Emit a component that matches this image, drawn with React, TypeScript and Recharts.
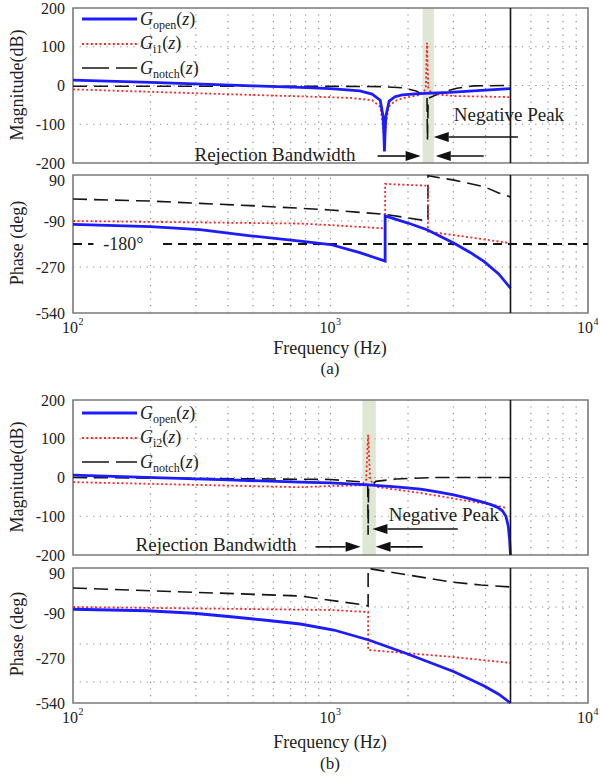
import React from 'react';
import {
  ComposedChart,
  Line,
  XAxis,
  YAxis,
  ReferenceLine,
  ReferenceArea,
  ReferenceDot,
} from 'recharts';

const FONT = '"Liberation Serif", "Times New Roman", serif';
const BLUE = '#1c1cff';
const RED = '#ff2424';
const BLACK = '#151515';
const BAND = '#dfe7d4';

// axes
const X_DOMAIN = [100, 10000];
const X_TICKS = [100, 1000, 10000];
const GRID_F = [200, 300, 400, 500, 600, 700, 800, 900, 1000, 2000, 3000, 4000, 5000, 6000, 7000, 8000, 9000];
const NYQUIST = 5000;
const MAG_TICKS = [-200, -100, 0, 100, 200];
const MAG_GRID = [100, 0, -100];
const PHASE_TICKS = [90, -90, -270, -450];
const PHASE_TICK_LABELS = ['90', '-90', '-270', '-540'];
const PHASE_A_GRID = [-90, -270];
const PHASE_B_GRID = [-66, -214, -366];

// shaded rejection band [f1, f2]
const BAND_A = [2280, 2520];
const BAND_B = [1330, 1500];

// (a) magnitude, [Hz, dB]
const A_MAG_OPEN = [
  [100, 14], [200, 8], [500, -1], [763, -5], [1000, -8], [1300, -14], [1450, -22], [1560, -38],
  [1600, -80], [1613, -130], [1620, -170], [1627, -130], [1640, -80], [1690, -40], [1780, -29],
  [1900, -24], [2200, -21], [2900, -18], [4000, -12], [5000, -8],
];
const A_MAG_I1 = [
  [100, -10], [300, -20], [763, -28], [1200, -32], [1450, -38], [1560, -55], [1605, -110],
  [1620, -165], [1635, -110], [1680, -55], [1780, -40], [1900, -33], [2200, -25], [2300, -18],
  [2345, -5], [2370, 110], [2395, -5], [2450, -18], [2600, -23], [3000, -27], [5000, -30],
];
const A_MAG_NOTCH = [
  [100, -2], [1000, -2], [1600, -3], [1900, -6], [2150, -14], [2300, -24], [2370, -30],
  [2380, -140], [2395, -33], [2500, -28], [2700, -18], [3100, -7], [3600, -1], [5000, 0],
];

// (a) phase, [Hz, deg]
const A_PH_OPEN = [
  [100, -103], [200, -112], [311, -124], [489, -148], [763, -169], [1000, -182], [1300, -214],
  [1630, -247], [1630, -70], [2000, -98], [2384, -125], [3020, -177], [3500, -214], [3953, -249],
  [4500, -297], [5000, -353],
];
const A_PH_I1 = [
  [100, -90], [763, -100], [1000, -106], [1630, -119], [1630, 55], [2390, 48], [2390, -132],
  [3020, -145], [5000, -177],
];
const A_PH_NOTCH = [
  [100, -4], [200, -12], [311, -21], [489, -30], [763, -40], [1000, -47], [1630, -64], [2390, -90],
  [2390, 87], [3020, 70], [3953, 44], [4500, 20], [5000, 4],
];

// (b) magnitude
const B_MAG_OPEN = [
  [100, 6], [400, -6], [763, -12], [1000, -14], [1400, -19], [1800, -24], [2240, -30], [2600, -37],
  [3010, -45], [3400, -53], [3838, -62], [4200, -70], [4460, -77], [4650, -86], [4800, -100],
  [4900, -125], [4960, -160], [5000, -200],
];
const B_MAG_I2 = [
  [100, -12], [763, -25], [1000, -22], [1320, -20], [1375, -6], [1400, 110], [1425, -6], [1500, -24],
  [2240, -40], [3250, -58], [4460, -73], [4800, -78],
];
const B_MAG_NOTCH = [
  [100, 0], [1000, -5], [1350, -12], [1395, -20], [1400, -148], [1405, -28], [1500, -10], [1800, -4],
  [2500, 0], [5000, 0],
];

// (b) phase
const B_PH_OPEN = [
  [100, -75], [194, -81], [294, -91], [421, -106], [550, -118], [763, -134], [1030, -158],
  [1408, -198], [1959, -251], [3020, -325], [3953, -382], [4500, -415], [5000, -450],
];
const B_PH_I2 = [
  [100, -66], [1000, -78], [1400, -86], [1400, -238], [3010, -266], [5000, -290],
];
const B_PH_NOTCH = [
  [100, 10], [763, -22], [1350, -58], [1400, -62], [1400, 88], [1700, 74], [2930, 34], [3838, 22], [5000, 14],
];

const pts = (arr: number[][]) => arr.map(([f, v]) => ({ f, v }));

const Arrow = (p: any) => {
  const { x1, y1, x2, y2 } = p;
  const dir = Math.sign(x2 - x1) || 1;
  const hl = 15;
  const hw = 5;
  return (
    <g>
      <line x1={x1} y1={y1} x2={x2 - dir * hl} y2={y2} stroke="#111" strokeWidth={1.6} />
      <polygon points={`${x2},${y2} ${x2 - dir * hl},${y2 - hw} ${x2 - dir * hl},${y2 + hw}`} fill="#111" />
    </g>
  );
};

const note = (text: string, anchor: string) => (p: any) => (
  <text x={p.cx} y={p.cy} textAnchor={anchor} fontFamily={FONT} fontSize={19} fill="#222">
    {text}
  </text>
);

const PowTick = (p: any) => {
  const exp = Math.round(Math.log10(p.payload.value));
  return (
    <g fontFamily={FONT} fill="#222">
      <text x={p.x + 5} y={p.y + 12} textAnchor="end" fontSize={16}>10</text>
      <text x={p.x + 5.5} y={p.y + 4} textAnchor="start" fontSize={10}>{exp}</text>
    </g>
  );
};

// y tick; the top phase label sits a little below the frame edge, as in the figure
const YTick = (p: any) => {
  const v = p.payload.value;
  const label = p.phase ? PHASE_TICK_LABELS[PHASE_TICKS.indexOf(v)] : String(v);
  const shift = p.phase && v === 90 ? 5 : 0;
  return (
    <text x={p.x} y={p.y + shift} dy="0.35em" textAnchor="end" fontFamily={FONT} fontSize={16} fill="#222">
      {label}
    </text>
  );
};

interface PanelProps {
  top: number;
  height: number;
  marginTop: number;
  marginBottom: number;
  kind: 'mag' | 'phase';
  open: number[][];
  inj: number[][];
  notch: number[][];
  band?: number[];
  hGrid: number[];
  children?: React.ReactNode;
}

const Panel = ({ top, height, marginTop, marginBottom, kind, open, inj, notch, band, hGrid, children }: PanelProps) => {
  const isMag = kind === 'mag';
  const yDomain = isMag ? [-200, 200] : [-450, 90];
  return (
    <div style={{ position: 'absolute', left: 0, top }}>
      <ComposedChart width={600} height={height} margin={{ top: marginTop, right: 12, bottom: marginBottom, left: 0 }}>
        <XAxis
          dataKey="f"
          type="number"
          scale="log"
          domain={X_DOMAIN}
          ticks={X_TICKS}
          allowDataOverflow
          hide={isMag}
          height={30}
          axisLine={false}
          tickLine={false}
          tick={<PowTick />}
          interval={0}
        />
        <YAxis
          type="number"
          domain={yDomain}
          ticks={isMag ? MAG_TICKS : PHASE_TICKS}
          width={73}
          axisLine={false}
          tickLine={false}
          tick={<YTick phase={!isMag} />}
          interval={0}
        />
        {band && <ReferenceArea x1={band[0]} x2={band[1]} y1={yDomain[0]} y2={yDomain[1]} fill={BAND} fillOpacity={1} stroke="none" />}
        {GRID_F.map((f) => (
          <ReferenceLine key={'v' + f} x={f} stroke="#8a8a8a" strokeWidth={1.2} strokeDasharray="1.2 5.5" />
        ))}
        {hGrid.map((v) => (
          <ReferenceLine key={'h' + v} y={v} stroke="#8a8a8a" strokeWidth={1.2} strokeDasharray="1.2 5.5" />
        ))}
        {children}
        <Line data={pts(notch)} dataKey="v" stroke={BLACK} strokeWidth={1.6} strokeDasharray="14 7" dot={false} type="linear" isAnimationActive={false} />
        <Line data={pts(inj)} dataKey="v" stroke={RED} strokeWidth={1.8} strokeDasharray="2 2.4" dot={false} type="linear" isAnimationActive={false} />
        <Line data={pts(open)} dataKey="v" stroke={BLUE} strokeWidth={2.8} dot={false} type="linear" isAnimationActive={false} />
        <ReferenceLine x={NYQUIST} stroke={BLACK} strokeWidth={1.6} />
        <ReferenceArea x1={X_DOMAIN[0]} x2={X_DOMAIN[1]} y1={yDomain[0]} y2={yDomain[1]} fill="none" stroke="#7a7a7a" strokeWidth={1.6} />
      </ComposedChart>
    </div>
  );
};

const LEGEND_A = [
  { sub: 'open', color: BLUE, width: 2.8, dash: undefined },
  { sub: 'i1', color: RED, width: 1.8, dash: '2 2.4' },
  { sub: 'notch', color: BLACK, width: 1.6, dash: '27 7' },
];
const LEGEND_B = [
  { sub: 'open', color: BLUE, width: 2.8, dash: undefined },
  { sub: 'i2', color: RED, width: 1.8, dash: '2 2.4' },
  { sub: 'notch', color: BLACK, width: 1.6, dash: '27 7' },
];

const LegendBox = ({ top, items }: { top: number; items: typeof LEGEND_A }) => (
  <div style={{ position: 'absolute', left: 80, top, fontFamily: FONT, color: '#222' }}>
    {items.map((it, i) => (
      <div key={it.sub} style={{ position: 'absolute', top: i * 24.5, left: 0, height: 24, display: 'flex', alignItems: 'center', whiteSpace: 'nowrap' }}>
        <svg width={58} height={10}>
          <line x1={2} y1={5} x2={57} y2={5} stroke={it.color} strokeWidth={it.width} strokeDasharray={it.dash} />
        </svg>
        <span style={{ fontSize: 18, marginLeft: 2 }}>
          <i>G</i>
          <span style={{ fontSize: 12, position: 'relative', top: 4 }}>{it.sub}</span>(<i>z</i>)
        </span>
      </div>
    ))}
  </div>
);

const textAbs = (left: number, top: number, fontSize: number): React.CSSProperties => ({
  position: 'absolute',
  left,
  top,
  transform: 'translate(-50%, -50%)',
  fontFamily: FONT,
  fontSize,
  color: '#222',
  whiteSpace: 'nowrap',
});

const yTitle = (top: number): React.CSSProperties => ({
  ...textAbs(17, top, 18),
  transform: 'translate(-50%, -50%) rotate(-90deg)',
});

const DegLabel = (p: any) => (
  <g>
    <rect x={p.cx - 30} y={p.cy - 10} width={64} height={20} fill="#fff" />
    <text x={p.cx} y={p.cy + 6} textAnchor="middle" fontFamily={FONT} fontSize={18} fill="#222">
      -180°
    </text>
  </g>
);

export default function App() {
  return (
    <div style={{ position: 'absolute', left: 0, top: 0, width: 600, height: 780, background: '#fff' }}>
      {/* (a) magnitude */}
      <Panel top={0} height={180} marginTop={8} marginBottom={17} kind="mag" open={A_MAG_OPEN} inj={A_MAG_I1} notch={A_MAG_NOTCH} band={BAND_A} hGrid={MAG_GRID}>
        <ReferenceLine segment={[{ x: 5345, y: -133 }, { x: 2518, y: -133 }]} shape={<Arrow />} ifOverflow="visible" />
        <ReferenceLine segment={[{ x: 1524, y: -182 }, { x: 2239, y: -182 }]} shape={<Arrow />} ifOverflow="visible" />
        <ReferenceLine segment={[{ x: 3935, y: -182 }, { x: 2563, y: -182 }]} shape={<Arrow />} ifOverflow="visible" />
        <ReferenceDot x={3013} y={-92} ifOverflow="visible" shape={note('Negative Peak', 'start')} />
        <ReferenceDot x={1250} y={-195} ifOverflow="visible" shape={note('Rejection Bandwidth', 'end')} />
      </Panel>
      {/* (a) phase */}
      <Panel top={165} height={178} marginTop={10} marginBottom={0} kind="phase" open={A_PH_OPEN} inj={A_PH_I1} notch={A_PH_NOTCH} hGrid={PHASE_A_GRID}>
        <ReferenceLine y={-180} stroke={BLACK} strokeWidth={2} strokeDasharray="9 6" />
        <ReferenceDot x={157} y={-180} ifOverflow="visible" shape={<DegLabel />} />
      </Panel>
      {/* (b) magnitude */}
      <Panel top={392} height={180} marginTop={8} marginBottom={17} kind="mag" open={B_MAG_OPEN} inj={B_MAG_I2} notch={B_MAG_NOTCH} band={BAND_B} hGrid={MAG_GRID}>
        <ReferenceLine segment={[{ x: 3120, y: -133 }, { x: 1455, y: -133 }]} shape={<Arrow />} ifOverflow="visible" />
        <ReferenceLine segment={[{ x: 875, y: -179 }, { x: 1309, y: -179 }]} shape={<Arrow />} ifOverflow="visible" />
        <ReferenceLine segment={[{ x: 2281, y: -179 }, { x: 1496, y: -179 }]} shape={<Arrow />} ifOverflow="visible" />
        <ReferenceDot x={1683} y={-112} ifOverflow="visible" shape={note('Negative Peak', 'start')} />
        <ReferenceDot x={738} y={-190} ifOverflow="visible" shape={note('Rejection Bandwidth', 'end')} />
      </Panel>
      {/* (b) phase */}
      <Panel top={558} height={175} marginTop={10} marginBottom={0} kind="phase" open={B_PH_OPEN} inj={B_PH_I2} notch={B_PH_NOTCH} hGrid={PHASE_B_GRID} />

      <LegendBox top={7} items={LEGEND_A} />
      <LegendBox top={401} items={LEGEND_B} />

      <div style={yTitle(85)}>Magnitude(dB)</div>
      <div style={yTitle(243)}>Phase (deg)</div>
      <div style={yTitle(477)}>Magnitude(dB)</div>
      <div style={yTitle(634)}>Phase (deg)</div>

      <div style={textAbs(330, 348, 18)}>Frequency (Hz)</div>
      <div style={textAbs(330, 369, 17)}>(a)</div>
      <div style={textAbs(330, 742, 18)}>Frequency (Hz)</div>
      <div style={textAbs(330, 764, 17)}>(b)</div>
    </div>
  );
}
